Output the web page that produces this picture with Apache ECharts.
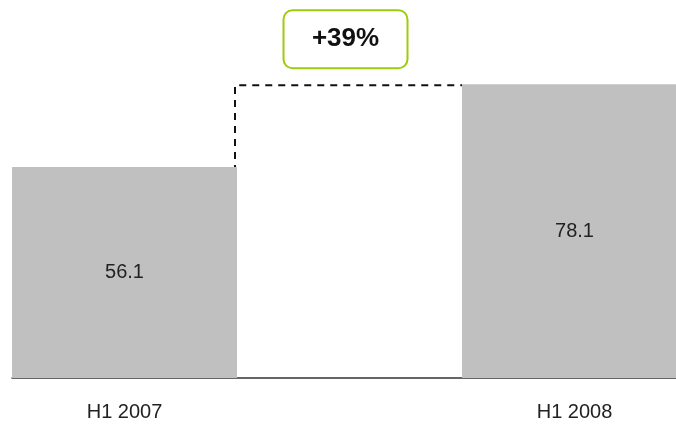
<!DOCTYPE html>
<html>
<head>
<meta charset="utf-8">
<script src="https://cdn.jsdelivr.net/npm/echarts@6/dist/echarts.min.js"></script>
<style>html,body{margin:0;padding:0;background:#fff;overflow:hidden;width:676px;height:424px;}#c{width:687px;height:424px;}</style>
</head>
<body>
<div id="c"></div>
<script>
var categories = ['H1 2007', '', 'H1 2008'];
var values = [56.1, null, 78.1];
var changeLabel = '+39%';
var fromValue = 56.1;
var toValue = 78.1;

var chart = echarts.init(document.getElementById('c'), null, {renderer: 'canvas'});
var FONT = '"Liberation Sans", Arial, sans-serif';
chart.setOption({
  animation: false,
  grid: {left: 12, right: 0, top: 9.4, bottom: 46, containLabel: false, outerBoundsMode: 'none'},
  xAxis: {
    type: 'category', data: categories,
    axisLine: {show: true, lineStyle: {color: '#333', width: 1.5}},
    axisTick: {show: false},
    axisLabel: {color: '#222', fontSize: 20, fontFamily: FONT, margin: 24}
  },
  yAxis: {type: 'value', min: 0, max: 98, show: false, splitLine: {show: false}},
  series: [
    {
      type: 'bar', data: values, barWidth: '100%', barGap: '-100%',
      itemStyle: {color: '#c0c0c0'},
      label: {show: true, position: 'inside', color: '#222', fontSize: 20, fontFamily: FONT,
              formatter: function (p) { return p.value.toFixed(1); }}
    },
    {
      type: 'custom', coordinateSystem: 'cartesian2d', silent: true,
      data: [[0, fromValue, 2, toValue]],
      renderItem: function (params, api) {
        var p0 = api.coord([api.value(0), api.value(1)]);
        var p2 = api.coord([api.value(2), api.value(3)]);
        var band = api.size([1, 0])[0];
        var x0 = p0[0] + band / 2 - 2;
        var x2 = p2[0] - band / 2;
        var yTop = p2[1] + 1;
        var cx = (x0 + x2) / 2 - 3;
        var cy = yTop - 46;
        return {
          type: 'group',
          children: [
            {type: 'polyline', shape: {points: [[x0, p0[1] + 5], [x0, yTop], [x2, yTop]]},
             style: {stroke: '#111', lineWidth: 2, lineDash: [7, 6], fill: null}},
            {type: 'rect', shape: {x: cx - 62, y: cy - 29, width: 124, height: 58, r: 9},
             style: {fill: '#fff', stroke: '#9ccc0a', lineWidth: 2}},
            {type: 'text', style: {x: cx, y: cy, text: changeLabel, textAlign: 'center', textVerticalAlign: 'middle',
             fill: '#111', font: 'bold 26px ' + FONT}}
          ]
        };
      }
    }
  ]
});
</script>
</body>
</html>
